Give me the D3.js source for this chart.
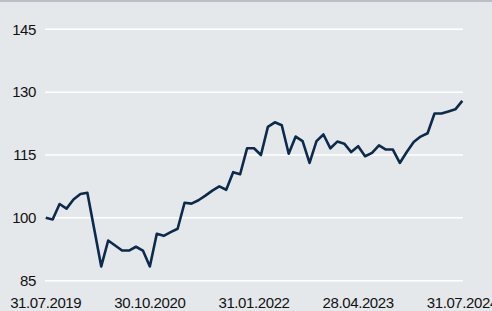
<!DOCTYPE html>
<html>
<head>
<meta charset="utf-8">
<script src="https://cdn.jsdelivr.net/npm/d3@7"></script>
<style>
  html, body { margin: 0; padding: 0; background: #e5e8eb; }
  svg { display: block; }
  text { font-family: "Liberation Sans", Arial, sans-serif; font-size: 15px; fill: #111; letter-spacing: -0.4px; }
</style>
</head>
<body>
<script>
// monthly index values, 31.07.2019 .. 31.07.2024
const values = [
  100.0, 99.6, 103.3, 102.2, 104.4, 105.7, 106.0, 97.2, 88.4, 94.6,
  93.4, 92.2, 92.2, 93.1, 92.2, 88.4, 96.2, 95.7, 96.6, 97.4,
  103.6, 103.4, 104.2, 105.3, 106.5, 107.5, 106.7, 110.9, 110.4, 116.6,
  116.6, 115.0, 121.7, 122.8, 122.1, 115.3, 119.4, 118.3, 113.1, 118.3,
  119.9, 116.6, 118.2, 117.7, 115.7, 117.1, 114.7, 115.5, 117.3, 116.3,
  116.3, 113.1, 115.7, 118.1, 119.4, 120.2, 124.9, 124.9, 125.4, 125.9,
  127.9
];
const yTicks = [85, 100, 115, 130, 145];
const xTickIdx = [0, 15, 30, 45, 60];
const xTickLabels = ["31.07.2019", "30.10.2020", "31.01.2022", "28.04.2023", "31.07.2024"];

const width = 492, height = 311;

const svg = d3.select("body").append("svg")
  .attr("width", width)
  .attr("height", height);

svg.append("rect")
  .attr("width", width).attr("height", height)
  .attr("fill", "#e5e8eb");

// thin darker band at the top
svg.append("rect")
  .attr("width", width).attr("height", 2)
  .attr("fill", "#b8bfc7");

const x = d3.scaleLinear().domain([0, values.length - 1]).range([45.7, 462.3]);
const y = d3.scaleLinear().domain([85, 145]).range([280.7, 29.3]);

// gridlines
svg.append("g")
  .selectAll("line")
  .data(yTicks)
  .enter().append("line")
  .attr("x1", 45).attr("x2", 463)
  .attr("y1", d => y(d)).attr("y2", d => y(d))
  .attr("stroke", "#ffffff")
  .attr("stroke-width", 1.5);

// y labels
svg.append("g")
  .selectAll("text")
  .data(yTicks)
  .enter().append("text")
  .attr("x", 36)
  .attr("y", d => y(d))
  .attr("dy", "0.35em")
  .attr("text-anchor", "end")
  .text(d => d);

// x labels
svg.append("g")
  .selectAll("text")
  .data(xTickIdx)
  .enter().append("text")
  .attr("x", d => x(d))
  .attr("y", 307.5)
  .attr("text-anchor", "middle")
  .text((d, i) => xTickLabels[i]);

const line = d3.line()
  .x((d, i) => x(i))
  .y(d => y(d));

svg.append("path")
  .datum(values)
  .attr("fill", "none")
  .attr("stroke", "#0c2a4b")
  .attr("stroke-width", 2.6)
  .attr("stroke-linejoin", "round")
  .attr("d", line);
</script>
</body>
</html>
